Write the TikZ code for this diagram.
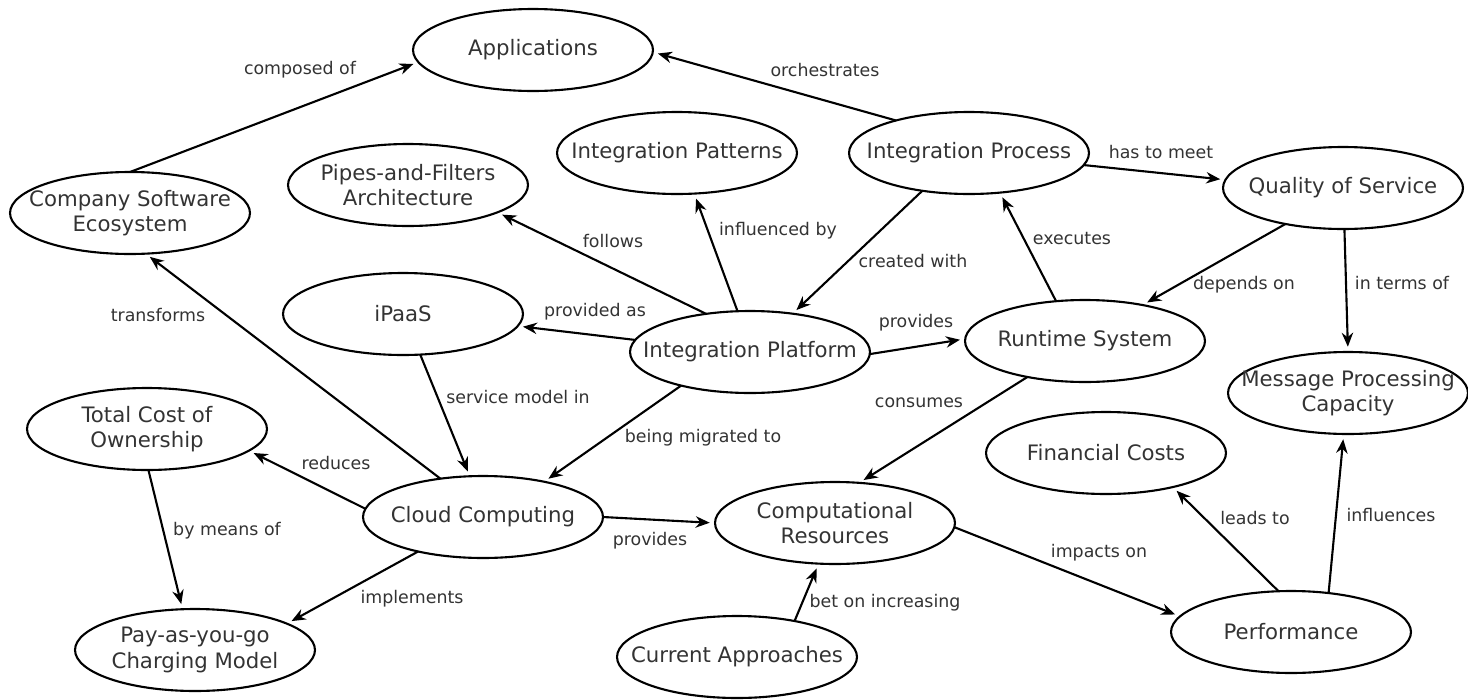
\documentclass[tikz,border=0pt]{standalone}
\usepackage{fontspec}
\setmainfont{DejaVu Sans}
\usetikzlibrary{shapes.geometric,arrows.meta}
\definecolor{txtgray}{HTML}{333333}
\begin{document}
\begin{tikzpicture}[x=0.02cm,y=-0.02cm,outer sep=0pt,very thick,
concept/.style={draw,ellipse,minimum width=4.8cm,minimum height=1.64cm,inner xsep=-0.5cm,inner ysep=0pt,align=center,text=txtgray,font=\fontsize{12.1pt}{14.4pt}\selectfont},
rel/.style={inner sep=0pt,text=txtgray,font=\fontsize{9.9pt}{12pt}\selectfont},
link/.style={-{Stealth[length=8pt,width=6.5pt]},shorten >=3pt}]
\useasboundingbox (0,0) rectangle (1468,700);
% concepts
\draw (533,50) node[concept] (apps) {Applications};
\draw (130,213) node[concept] (cse) {Company Software\\Ecosystem};
\draw (408,185) node[concept] (pipes) {Pipes-and-Filters\\Architecture};
\draw (677,153) node[concept] (ipat) {Integration Patterns};
\draw (969,153) node[concept] (iproc) {Integration Process};
\draw (1343,188) node[concept] (qos) {Quality of Service};
\draw (403,314) node[concept] (ipaas) {iPaaS};
\draw (750,352) node[concept] (iplat) {Integration Platform};
\draw (1085,341) node[concept] (rts) {Runtime System};
\draw (1348,393) node[concept] (mpc) {Message Processing\\Capacity};
\draw (147,429) node[concept] (tco) {Total Cost of\\Ownership};
\draw (1106,453) node[concept] (fcost) {Financial Costs};
\draw (483,517) node[concept] (cloud) {Cloud Computing};
\draw (835,523) node[concept] (cres) {Computational\\Resources};
\draw (1291,632) node[concept] (perf) {Performance};
\draw (195,650) node[concept] (payg) {Pay-as-you-go\\Charging Model};
\draw (737,657) node[concept] (capp) {Current Approaches};
% relations
\draw[link] (cse.north) -- (apps.186);
\draw[link] (iproc.156) -- (apps.-1);
\draw[link] (iproc.-6) -- (qos.176);
\draw[link] (iplat.139) -- (pipes.-17);
\draw[link] (iplat.107) -- (ipat.-67);
\draw[link] (iproc.219) -- (iplat.42);
\draw[link] (iplat.174) -- (ipaas.-6);
\draw[link] (iplat.-1) -- (rts.179);
\draw[link] (iplat.206) -- (cloud.30);
\draw[link] (rts.126) -- (iproc.-52);
\draw[link] (qos.212) -- (rts.32);
\draw[link] (qos.-88) -- (mpc.north);
\draw[link] (cloud.138) -- (cse.-69);
\draw[link] (ipaas.-67) -- (cloud.108);
\draw[link] (cloud.176) -- (tco.-12);
\draw[link] (tco.-88) -- (payg.107);
\draw[link] (cloud.208) -- (payg.16);
\draw[link] (cloud.east) -- (cres.west);
\draw[link] (rts.212) -- (cres.59);
\draw[link] (capp.32) -- (cres.248);
\draw[link] (cres.-2) -- (perf.172);
\draw[link] (perf.107) -- (fcost.-27);
\draw[link] (perf.46) -- (mpc.264);
% relation labels
\draw (300,70) node[rel] (lcomposed) {composed of};
\draw (825,70) node[rel] (lorch) {orchestrates};
\draw (1161,152) node[rel] (lmeet) {has to meet};
\draw (613,241) node[rel] (lfollows) {follows};
\draw (778,231) node[rel] (linfl) {influenced by};
\draw (913,261) node[rel] (lcreated) {created with};
\draw (1072,239) node[rel] (lexec) {executes};
\draw (1244,285) node[rel] (ldepends) {depends on};
\draw (1402,283) node[rel] (lterms) {in terms of};
\draw (158,315) node[rel] (ltransf) {transforms};
\draw (595,312) node[rel] (lprovas) {provided as};
\draw (916,323) node[rel] (lprovrts) {provides};
\draw (518,397) node[rel] (lservice) {service model in};
\draw (919,403) node[rel] (lconsumes) {consumes};
\draw (703,438) node[rel] (lmigr) {being migrated to};
\draw (336,463) node[rel] (lreduces) {reduces};
\draw (227,531) node[rel] (lmeans) {by means of};
\draw (650,541) node[rel] (lprovres) {provides};
\draw (1099,553) node[rel] (limpacts) {impacts on};
\draw (1255,518) node[rel] (lleads) {leads to};
\draw (1391,515) node[rel] (linfluences) {influences};
\draw (412,599) node[rel] (limpl) {implements};
\draw (885,603) node[rel] (lbet) {bet on increasing};
\end{tikzpicture}
\end{document}
